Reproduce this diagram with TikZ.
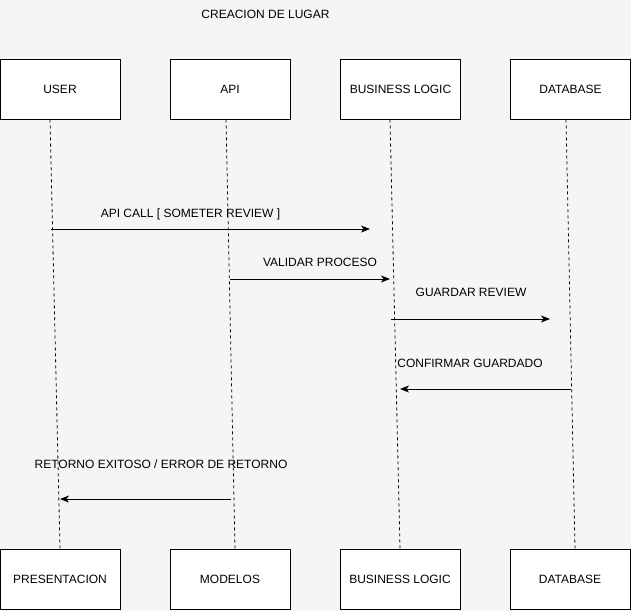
\documentclass[tikz,border=0pt]{standalone}
\usepackage{fontspec}
\setmainfont{Liberation Sans}
\usetikzlibrary{arrows.meta}
\definecolor{canvas}{HTML}{F5F5F5}
\tikzset{
  actor/.style={draw=black, fill=white, line width=1pt, minimum width=120pt, minimum height=60pt, inner sep=0pt, font=\fontsize{12pt}{14pt}\selectfont},
  lifeline/.style={draw=black, line width=0.8pt, dash pattern=on 3pt off 3pt},
  msg/.style={draw=black, line width=1pt, -{Stealth[length=9pt,width=7pt,inset=2.5pt]}},
  msglabel/.style={inner sep=0pt, font=\fontsize{12pt}{14pt}\selectfont}
}
\begin{document}
\begin{tikzpicture}[x=1pt,y=-1pt]
  \fill[canvas] (0,0) rectangle (631,611);
  \useasboundingbox (0,0) rectangle (631,611);

  \node[msglabel] (title) at (265.5,14) {CREACION DE LUGAR};

  % participants on top
  \node[actor] (user) at (60,89) {USER};
  \node[actor] (api)  at (230,89) {API};
  \node[actor] (bl)   at (400.5,89) {BUSINESS LOGIC};
  \node[actor] (db)   at (570.5,89) {DATABASE};

  % participants at the bottom
  \node[actor] (pres) at (60,579) {PRESENTACION};
  \node[actor] (mod)  at (230,579) {MODELOS};
  \node[actor] (bl2)  at (400,579) {BUSINESS LOGIC};
  \node[actor] (db2)  at (570,579) {DATABASE};

  % lifelines
  \draw[lifeline] ([xshift=-10pt]user.south) -- (pres.north);
  \draw[lifeline] ([xshift=-4pt]api.south) -- ([xshift=5pt]mod.north);
  \draw[lifeline] ([xshift=-10.5pt]bl.south) -- (bl2.north);
  \draw[lifeline] ([xshift=-4.5pt]db.south) -- ([xshift=5pt]db2.north);

  % message end points
  \coordinate (m1a) at (51,229);  \coordinate (m1b) at (370,229);
  \coordinate (m2a) at (230,279); \coordinate (m2b) at (390,279);
  \coordinate (m3a) at (391,319); \coordinate (m3b) at (550,319);
  \coordinate (m4a) at (571,389); \coordinate (m4b) at (400,389);
  \coordinate (m5a) at (231,499); \coordinate (m5b) at (60,499);

  % messages
  \draw[msg] (m1a) -- (m1b);
  \draw[msg] (m2a) -- (m2b);
  \draw[msg] (m3a) -- (m3b);
  \draw[msg] (m4a) -- (m4b);
  \draw[msg] (m5a) -- (m5b);

  % message labels
  \node[msglabel] (l1) at (190.5,214) {API CALL [ SOMETER REVIEW ]};
  \node[msglabel] (l2) at (320,262) {VALIDAR PROCESO};
  \node[msglabel] (l3) at (471,292) {GUARDAR REVIEW};
  \node[msglabel] (l4) at (470,363) {CONFIRMAR GUARDADO};
  \node[msglabel] (l5) at (161,464) {RETORNO EXITOSO / ERROR DE RETORNO};
\end{tikzpicture}
\end{document}
